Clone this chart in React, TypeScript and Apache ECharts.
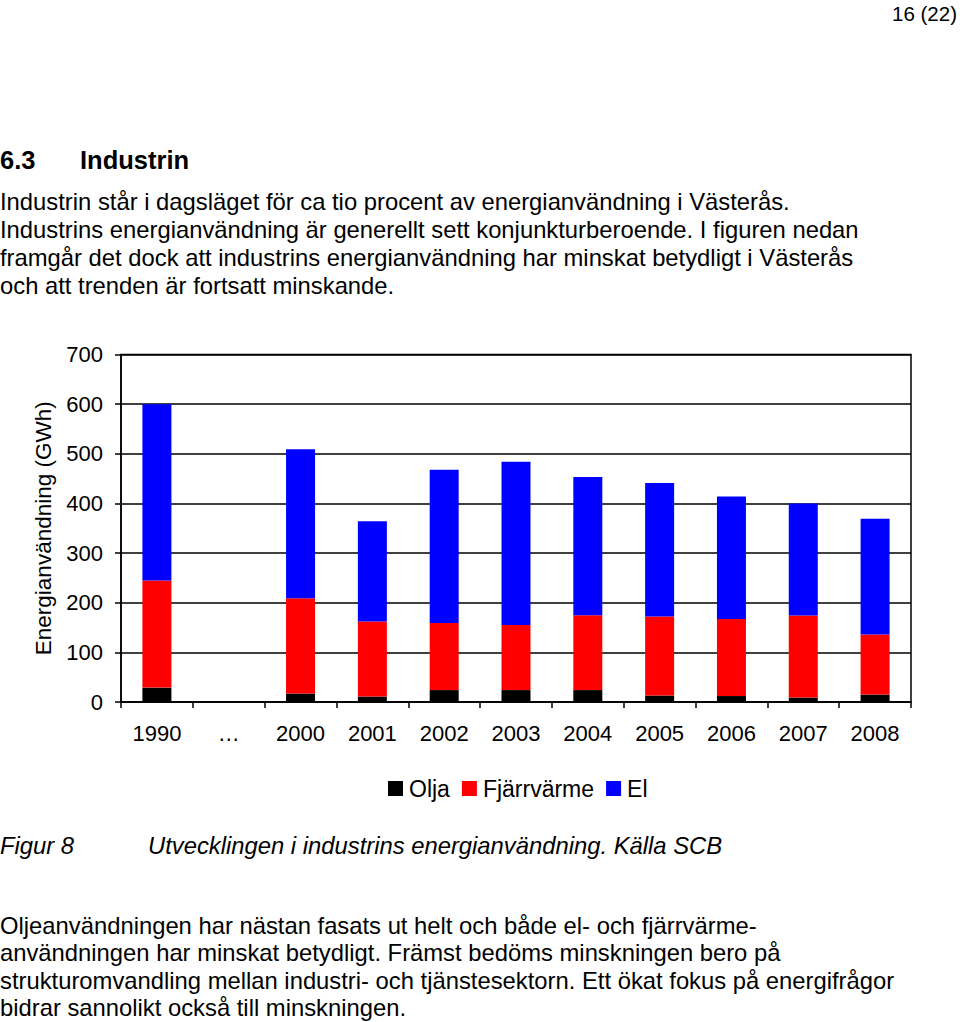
import React, { useEffect, useRef } from "react";
import * as echarts from "echarts";

const categories = ["1990", "…", "2000", "2001", "2002", "2003", "2004", "2005", "2006", "2007", "2008"];
const olja = [29, null, 17, 11, 24, 24, 24, 13, 12, 9, 15];
const fjarrvarme = [216, null, 192, 151, 135, 131, 151, 159, 155, 165, 121];
const el = [355, null, 300, 202, 309, 329, 278, 269, 247, 226, 233];
const yTicks = { min: 0, max: 700, interval: 100 };

const introLines = [
  "Industrin står i dagsläget för ca tio procent av energianvändning i Västerås.",
  "Industrins energianvändning är generellt sett konjunkturberoende. I figuren nedan",
  "framgår det dock att industrins energianvändning har minskat betydligt i Västerås",
  "och att trenden är fortsatt minskande.",
];
const outroLines = [
  "Oljeanvändningen har nästan fasats ut helt och både el- och fjärrvärme-",
  "användningen har minskat betydligt. Främst bedöms minskningen bero på",
  "strukturomvandling mellan industri- och tjänstesektorn. Ett ökat fokus på energifrågor",
  "bidrar sannolikt också till minskningen.",
];

const FONT = "'Liberation Sans', Arial, sans-serif";

export default function App() {
  const ref = useRef<HTMLDivElement>(null);
  useEffect(() => {
    if (!ref.current) return;
    const chart = echarts.init(ref.current, null, { renderer: "svg" });
    const txt = (x: number, y: number, text: string, extra: any = {}) => ({
      type: "text",
      x,
      y,
      style: {
        text,
        fontFamily: FONT,
        fontSize: 23.8,
        fill: "#000",
        verticalAlign: "middle",
        align: "left",
        ...extra,
      },
    });
    const graphics: any[] = [
      txt(957, 13, "16 (22)", { align: "right", fontSize: 20.5 }),
      txt(0, 160, "6.3", { fontWeight: "bold", fontSize: 25.5 }),
      txt(80, 160, "Industrin", { fontWeight: "bold", fontSize: 25.5 }),
      ...introLines.map((l, i) => txt(0, 201 + i * 28, l)),
      txt(0, 845, "Figur 8", { fontStyle: "italic" }),
      txt(148, 845, "Utvecklingen i industrins energianvändning. Källa SCB", { fontStyle: "italic" }),
      ...outroLines.map((l, i) => txt(0, 925 + i * 27.5, l)),
    ];
    const barSeries = (name: string, data: any[], color: string) => ({
      name,
      type: "bar",
      stack: "total",
      data,
      barWidth: 29,
      itemStyle: { color },
      emphasis: { disabled: true },
    });
    chart.setOption({
      animation: false,
      textStyle: { fontFamily: FONT },
      grid: {
        left: 121,
        top: 354.5,
        width: 790,
        height: 347.5,
        show: true,
        borderColor: "#000",
        borderWidth: 1.5,
        containLabel: false,
      },
      legend: {
        left: 388,
        top: 777,
        padding: 0,
        icon: "rect",
        itemWidth: 15,
        itemHeight: 15,
        itemGap: 12,
        textStyle: { fontSize: 23, color: "#000", fontFamily: FONT, padding: [0, 0, 0, 1] },
        data: ["Olja", "Fjärrvärme", "El"],
      },
      xAxis: {
        type: "category",
        data: categories,
        boundaryGap: true,
        axisLine: { lineStyle: { color: "#000", width: 1.5 } },
        axisTick: { show: true, length: 6, alignWithLabel: false, lineStyle: { color: "#000", width: 1.5 } },
        axisLabel: { color: "#000", fontSize: 22, margin: 20, fontFamily: FONT, interval: 0 },
      },
      yAxis: {
        type: "value",
        min: yTicks.min,
        max: yTicks.max,
        interval: yTicks.interval,
        name: "Energianvändning (GWh)",
        nameLocation: "middle",
        nameRotate: 90,
        nameGap: 66,
        nameTextStyle: { fontSize: 22.5, color: "#000", fontFamily: FONT },
        axisLine: { show: true, lineStyle: { color: "#000", width: 1.5 } },
        axisTick: { show: true, length: 6, lineStyle: { color: "#000", width: 1.5 } },
        axisLabel: { color: "#000", fontSize: 22, margin: 18, fontFamily: FONT },
        splitLine: { show: true, lineStyle: { color: "#000", width: 1.5 } },
      },
      series: [
        barSeries("Olja", olja, "#000000"),
        barSeries("Fjärrvärme", fjarrvarme, "#FF0000"),
        barSeries("El", el, "#0000FF"),
      ],
      graphic: graphics,
    });
    return () => chart.dispose();
  }, []);
  return (
    <div
      ref={ref}
      style={{ position: "absolute", left: 0, top: 0, width: 960, height: 1022, background: "#fff" }}
    />
  );
}
